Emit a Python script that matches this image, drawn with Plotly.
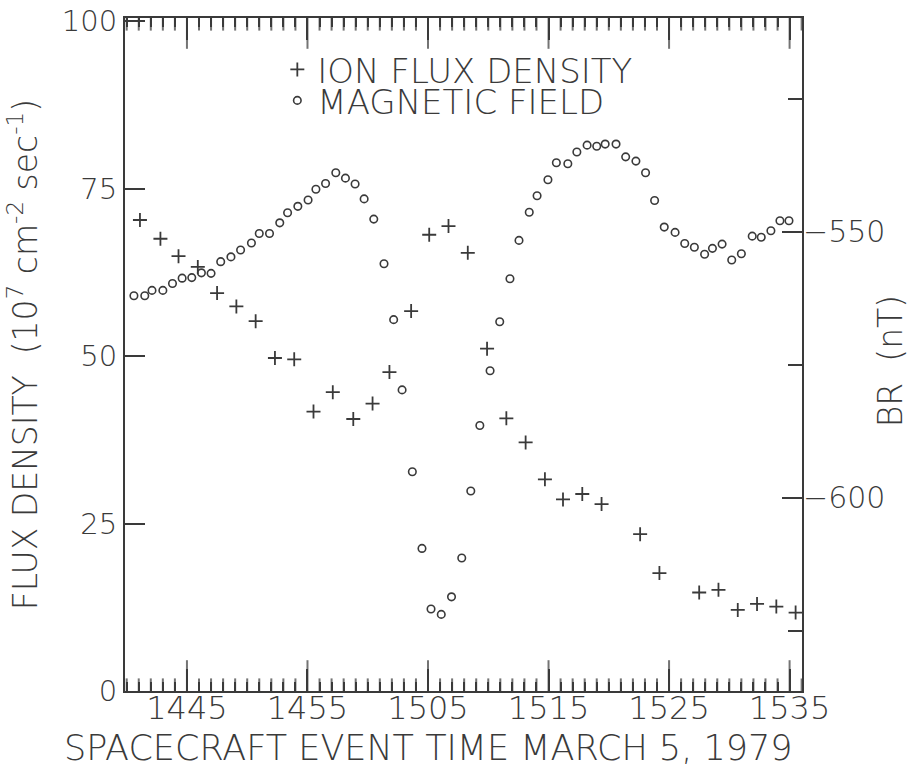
import plotly.graph_objects as go

# Minutes after 14:00 UT on 1979 March 5
flux_time = [41.1, 42.8, 44.3, 45.9, 47.5, 49.1, 50.7, 52.3, 53.9, 55.5,
             57.1, 58.8, 60.4, 61.8, 63.6, 65.1, 66.7, 68.3, 69.9, 71.5,
             73.1, 74.7, 76.2, 77.8, 79.4, 82.6, 84.2, 87.5, 89.1, 90.7,
             92.3, 93.9, 95.5]
# Ion flux density, 10^7 cm^-2 s^-1
flux = [70.3, 67.5, 64.9, 63.3, 59.4, 57.4, 55.2, 49.7, 49.5, 41.7,
        44.6, 40.6, 42.9, 47.6, 56.7, 68.1, 69.4, 65.4, 51.1, 40.7,
        37.1, 31.6, 28.6, 29.4, 27.9, 23.4, 17.6, 14.7, 15.1, 12.1,
        13.0, 12.6, 11.7]

field_time = [40.6, 41.5, 42.1, 43.0, 43.8, 44.6, 45.4, 46.2, 47.0, 47.8,
              48.65, 49.45, 50.35, 51.0, 51.85, 52.7, 53.35, 54.2, 55.05, 55.7,
              56.5, 57.35, 58.15, 58.95, 59.7, 60.5, 61.35, 62.15, 62.85, 63.7,
              64.5, 65.25, 66.1, 66.95, 67.8, 68.55, 69.3, 70.15, 70.95, 71.8,
              72.55, 73.4, 74.05, 74.95, 75.65, 76.6, 77.35, 78.2, 79.0, 79.7,
              80.6, 81.4, 82.25, 83.05, 83.8, 84.6, 85.5, 86.3, 87.1, 87.95,
              88.6, 89.4, 90.2, 91.0, 91.9, 92.65, 93.45, 94.2, 94.95]
# Radial magnetic field component, nT
field_br = [-562.0, -562.0, -561.0, -561.0, -559.7, -558.7, -558.6, -557.7, -557.8, -555.6,
            -554.7, -553.4, -552.1, -550.3, -550.3, -548.3, -546.4, -545.2, -544.0, -542.0,
            -540.9, -538.9, -539.9, -541.0, -543.8, -547.6, -556.0, -566.5, -579.7, -595.1,
            -609.5, -620.9, -621.9, -618.6, -611.3, -598.7, -586.4, -576.1, -566.9, -558.8,
            -551.6, -546.3, -543.2, -540.2, -537.0, -537.2, -535.0, -533.7, -533.9, -533.5,
            -533.5, -535.9, -536.7, -538.9, -544.1, -549.1, -550.1, -552.2, -552.9, -554.2,
            -553.1, -552.3, -555.3, -554.1, -550.8, -551.0, -549.8, -547.9, -547.9]

time_ticks = [45, 55, 65, 75, 85, 95]
time_labels = ["1445", "1455", "1505", "1515", "1525", "1535"]
time_range = [39.86, 96.03]
flux_range = [0, 100.45]

INK = "#3a3a3a"
FONT = "DejaVu Sans"

fig = go.Figure()

# Minute tick marks on the bottom and top frame edges: vertical-bar markers
# centred on the edge, the outer half clipped away by the plot area.
minutes = list(range(int(time_range[0]) + 1, int(time_range[1]) + 1))
mark_sizes = [44 if (m - time_ticks[0]) % 10 == 0 else 18 for m in minutes]
for edge in flux_range:
    fig.add_trace(go.Scatter(
        x=minutes, y=[edge] * len(minutes), mode="markers",
        marker=dict(symbol="line-ns", size=mark_sizes, color=INK,
                    line=dict(width=2, color=INK)),
        cliponaxis=True, showlegend=False, hoverinfo="skip",
    ))

fig.add_trace(go.Scatter(
    x=flux_time, y=flux, mode="markers", name="ION FLUX DENSITY",
    marker=dict(symbol="cross-thin", size=10, line=dict(width=1.8, color=INK), color=INK),
    legend="legend",
))
fig.add_trace(go.Scatter(
    x=field_time, y=field_br, mode="markers", name="MAGNETIC FIELD", yaxis="y2",
    marker=dict(symbol="circle-open", size=7.5, line=dict(width=1.6, color=INK), color=INK),
    legend="legend2",
))

legend_common = dict(
    bgcolor="rgba(0,0,0,0)", borderwidth=0,
    font=dict(family=FONT, size=34, color=INK, weight=200),
    xanchor="left", yanchor="middle", itemwidth=30,
)

fig.update_layout(
    width=917, height=766,
    margin=dict(l=125, r=115, t=18, b=75),
    paper_bgcolor="white", plot_bgcolor="white",
    font=dict(family=FONT, size=30, color=INK, weight=200),
    showlegend=True,
    legend=dict(x=0.225, y=0.923, **legend_common),
    legend2=dict(x=0.225, y=0.877, **legend_common),
    xaxis=dict(
        range=time_range, showgrid=False, zeroline=False, automargin=False,
        showline=True, linecolor=INK, linewidth=2, mirror="ticks",
        tickmode="linear", tick0=time_ticks[0], dtick=time_ticks[1] - time_ticks[0],
        labelalias={str(t): lab for t, lab in zip(time_ticks, time_labels)},
        ticks="inside", ticklen=22, tickwidth=2, tickcolor=INK,
        minor=dict(tickmode="linear", tick0=0, dtick=1, ticks="inside",
                   ticklen=9, tickwidth=2, tickcolor=INK),
        tickfont=dict(size=32), ticklabelstandoff=-12,
    ),
    yaxis=dict(
        range=flux_range, showgrid=False, zeroline=False, automargin=False,
        showline=True, linecolor=INK, linewidth=2,
        tickmode="linear", tick0=0, dtick=25,
        ticks="inside", ticklen=20, tickwidth=2, tickcolor=INK,
        tickfont=dict(size=29),
        title=dict(text="FLUX DENSITY  (10<sup>7</sup> cm<sup>-2</sup> sec<sup>-1</sup>)",
                   font=dict(size=33), standoff=14),
    ),
    yaxis2=dict(
        range=[-636.3, -509.8], overlaying="y", side="right", automargin=False,
        showgrid=False, zeroline=False,
        showline=True, linecolor=INK, linewidth=2,
        tickmode="linear", tick0=-600, dtick=50,
        ticks="inside", ticklen=20, tickwidth=2, tickcolor=INK,
        minor=dict(tickmode="linear", tick0=-625, dtick=25, ticks="inside",
                   ticklen=14, tickwidth=2, tickcolor=INK),
        tickfont=dict(size=30), ticklabelstandoff=-7,
    ),
    annotations=[
        dict(
            text="SPACECRAFT EVENT TIME MARCH 5, 1979",
            xref="paper", yref="paper", x=0.447, y=-0.084,
            xanchor="center", yanchor="middle", showarrow=False,
            font=dict(size=35),
        ),
        dict(
            text="BR  (nT)",
            xref="paper", yref="paper", x=1.13, y=0.49,
            xanchor="center", yanchor="middle", showarrow=False,
            textangle=-90, font=dict(size=33),
        ),
    ],
)

fig.write_html("out.html")
